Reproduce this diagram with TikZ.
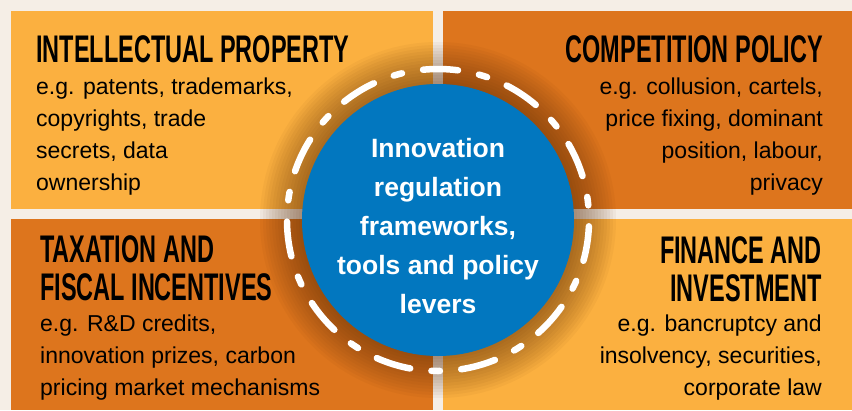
\documentclass[tikz,border=0pt]{standalone}
\usepackage{fontspec}
\setmainfont{Liberation Sans}
\newfontfamily\headfont[FakeStretch=0.61]{Liberation Sans Bold}
\usepackage{tikz}

\definecolor{bgcream}{HTML}{F5EEE6}
\definecolor{lightorange}{HTML}{FBB040}
\definecolor{darkorange}{HTML}{DD751D}
\definecolor{hubblue}{HTML}{0277BF}
\definecolor{shadowbrown}{HTML}{5A2A05}

\begin{document}
\begin{tikzpicture}[x=1pt, y=-1pt,
        heading/.style={font=\headfont\fontsize{38.5}{38.5}\selectfont, inner sep=0pt},
        bodytext/.style={font=\fontsize{23}{31.8}\selectfont, inner sep=0pt},
        hubtext/.style={font=\bfseries\fontsize{26.5}{39}\selectfont, text=white, align=center, inner sep=0pt}]
        \fill[bgcream] (0, 0) rectangle (852, 410);

        % quadrants
        \fill[lightorange] (11, 11) rectangle (433, 209);
        \fill[darkorange] (443, 11) rectangle (852, 209);
        \fill[darkorange] (11, 219) rectangle (433, 410);
        \fill[lightorange] (443, 219) rectangle (852, 410);

        % shadow round the hub
        \foreach \r in {136, 139, ..., 178}
            \fill[shadowbrown, opacity=0.045] (438, 220) circle[radius=\r];

        \node[circle, fill=hubblue, minimum size=272pt, inner sep=0pt] (hub) at (438, 220) {};
        \draw[white, line width=6.5pt, line cap=round,
            dash pattern=on 35pt off 21.4pt on 8.5pt off 21.4pt, dash phase=80pt]
            (hub.center) circle[radius=151];

        \node[hubtext] (hubText) at (438, 226) {Innovation\\ regulation\\ frameworks,\\ tools and policy\\ levers};

        % top left
        \node[heading, anchor=north west] (ipHead) at (36, 35) {INTELLECTUAL PROPERTY};
        \node[bodytext, align=left, anchor=north west] (ipText) at (36, 78)
            {e.g. patents, trademarks,\\ copyrights, trade\\ secrets, data\\ ownership};

        % top right
        \node[heading, anchor=north east] (cpHead) at (823, 35) {COMPETITION POLICY};
        \node[bodytext, align=right, anchor=north east] (cpText) at (823, 78)
            {e.g. collusion, cartels,\\ price fixing, dominant\\ position, labour,\\ privacy};

        % bottom left
        \node[heading, align=left, anchor=north west] (taxHead) at (40, 235) {TAXATION AND\\ FISCAL INCENTIVES};
        \node[bodytext, align=left, anchor=north west] (taxText) at (40, 315)
            {e.g. R\&D credits,\\ innovation prizes, carbon\\ pricing market mechanisms};

        % bottom right
        \node[heading, align=right, anchor=north east] (finHead) at (822, 236) {FINANCE AND\\ INVESTMENT};
        \node[bodytext, align=right, anchor=north east] (finText) at (822, 315)
            {e.g. bancruptcy and\\ insolvency, securities,\\ corporate law};
    \end{tikzpicture}
\end{document}
